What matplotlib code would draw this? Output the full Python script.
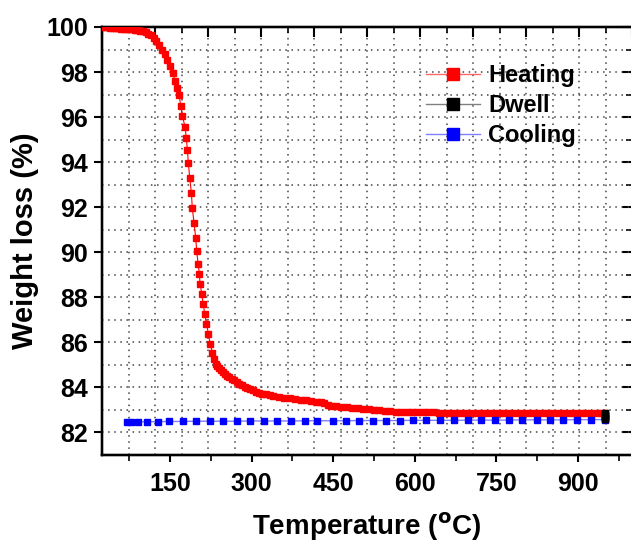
import numpy as np
import matplotlib
matplotlib.use("Agg")
import matplotlib.pyplot as plt
from matplotlib.lines import Line2D
from matplotlib.ticker import MultipleLocator, FixedLocator

plt.rcParams['font.family'] = ['Liberation Sans', 'DejaVu Sans']
plt.rcParams['font.weight'] = 'bold'
plt.rcParams['mathtext.default'] = 'bf'

# heating run (temperature in C, weight in %)
heat_T = [25, 30, 35, 40, 45, 50, 55, 60, 65, 70, 75, 80, 85, 90, 95, 100,
          105, 110, 115, 120, 125, 130, 135, 140, 145, 150, 155, 160, 163,
          166.6, 169.7, 172.7, 177.6, 180.0, 182.0, 183.8, 186.3, 189.3,
          191.0, 194.2, 197.3, 199.0, 201.6, 204.0, 205.3, 208.4, 210.8,
          213.9, 216.9, 220.6, 223.7, 228.0, 231, 234, 237, 240, 243, 247,
          251, 255, 259, 264, 268, 273, 277, 282, 287, 292, 297, 302, 308,
          314, 320, 326, 333, 340, 350, 360, 370, 380, 390, 400, 410, 420,
          428, 434, 440, 446, 455, 465, 475, 485, 495, 505, 515, 525, 535,
          545, 555, 565, 575, 585, 595, 605, 615, 625, 635, 645, 655, 665,
          675, 685, 695, 705, 715, 725, 735, 745, 755, 765, 775, 785, 795,
          805, 815, 825, 835, 845, 855, 865, 875, 885, 895, 905, 915, 925,
          935, 945, 950]
heat_W = [100.00, 99.99, 99.98, 99.97, 99.96, 99.95, 99.94, 99.93, 99.92,
          99.91, 99.90, 99.89, 99.88, 99.86, 99.84, 99.81, 99.77, 99.71,
          99.63, 99.52, 99.38, 99.20, 99.00, 98.78, 98.53, 98.25, 97.95,
          97.58, 97.30, 97.00, 96.50, 96.05, 95.57, 95.08, 94.53, 93.94,
          93.30, 92.63, 91.97, 91.30, 90.64, 90.06, 89.50, 89.02, 88.60,
          88.16, 87.72, 87.27, 86.83, 86.39, 85.94, 85.55, 85.28, 85.05,
          84.93, 84.84, 84.76, 84.67, 84.59, 84.52, 84.46, 84.38, 84.31,
          84.24, 84.17, 84.10, 84.03, 83.97, 83.92, 83.87, 83.81, 83.76,
          83.72, 83.69, 83.66, 83.63, 83.59, 83.55, 83.51, 83.48, 83.45,
          83.42, 83.39, 83.37, 83.35, 83.31, 83.23, 83.19, 83.16, 83.13,
          83.11, 83.09, 83.07, 83.05, 83.03, 83.01, 82.99, 82.97, 82.95,
          82.93, 82.92, 82.91, 82.90, 82.90, 82.89, 82.89, 82.89, 82.88,
          82.88, 82.88, 82.88, 82.88, 82.88, 82.88, 82.88, 82.88, 82.88,
          82.88, 82.88, 82.88, 82.88, 82.88, 82.87, 82.87, 82.87, 82.87,
          82.87, 82.87, 82.87, 82.87, 82.87, 82.87, 82.87, 82.87, 82.87,
          82.86, 82.86, 82.86, 82.86]

# dwell at max temperature
dwell_T = [950, 950, 950, 950, 950, 950, 950, 950]
dwell_W = [82.86, 82.82, 82.78, 82.74, 82.70, 82.66, 82.62, 82.58]

# cooling run
cool_T = [950, 925, 899, 873, 848, 824, 797, 773, 747, 722, 698, 672, 647,
          621, 596, 572, 547, 523, 498, 474, 449, 421, 398, 373, 347, 323,
          298, 273, 248, 223, 198, 173, 149, 127, 107, 91, 79, 71]
cool_W = [82.57, 82.57, 82.57, 82.56, 82.56, 82.56, 82.56, 82.55, 82.55,
          82.55, 82.55, 82.54, 82.54, 82.54, 82.54, 82.53, 82.53, 82.53,
          82.53, 82.52, 82.52, 82.52, 82.52, 82.51, 82.51, 82.51, 82.51,
          82.50, 82.50, 82.50, 82.50, 82.49, 82.49, 82.48, 82.48, 82.47,
          82.47, 82.46]

xticks = [150, 300, 450, 600, 750, 900]
yticks = [82, 84, 86, 88, 90, 92, 94, 96, 98, 100]

fig = plt.figure(figsize=(6.31, 5.44), dpi=100)
ax = fig.add_axes([0.1617, 0.1636, 0.8403, 0.7868])

xmin, xmax = 25, 1000
ymin, ymax = 81, 100

# twin axes for the inward ticks on top / right and the vertical grid
axt = ax.twiny()
axr = ax.twinx()
for a in (ax, axt, axr):
    a.set_xlim(xmin, xmax)
    a.set_ylim(ymin, ymax)

grid_kw = dict(color='#444444', linestyle=(0, (1, 3)), linewidth=1.1)

# top: 20 equal divisions
div = np.linspace(xmin, xmax, 21)
axt.xaxis.set_major_locator(FixedLocator(div[::2]))
axt.xaxis.set_minor_locator(FixedLocator(div[1::2]))
axt.tick_params(axis='x', which='major', direction='in', length=7, width=1.5,
                labeltop=False)
axt.tick_params(axis='x', which='minor', direction='in', length=4, width=1.2)
axt.grid(True, axis='x', which='both', **grid_kw)
axt.set_yticks([])

axr.yaxis.set_major_locator(FixedLocator(yticks))
axr.yaxis.set_minor_locator(MultipleLocator(1))
axr.tick_params(axis='y', which='major', direction='in', length=7, width=1.5,
                labelright=False)
axr.tick_params(axis='y', which='minor', direction='in', length=4, width=1.2)

ax.set_zorder(axr.get_zorder() + 2)
ax.patch.set_visible(False)

ax.plot(heat_T, heat_W, color='red', lw=0.8, marker='s', ms=5, mec='red',
        mfc='red', zorder=3)
ax.plot(dwell_T, dwell_W, color='gray', lw=0.8, marker='s', ms=4.8,
        mec='black', mfc='black', zorder=4)
ax.plot(cool_T, cool_W, color='#8080ff', lw=1.0, marker='s', ms=4.6,
        mec='blue', mfc='blue', zorder=3)

ax.set_xticks(xticks)
ax.xaxis.set_minor_locator(FixedLocator([75, 225, 375, 525, 675, 825, 975]))
ax.set_yticks(yticks)
ax.yaxis.set_minor_locator(MultipleLocator(1))
ax.grid(True, axis='y', which='both', **grid_kw)
ax.tick_params(axis='x', which='major', direction='out', length=5, width=1.5,
               pad=7, labelsize=18)
ax.tick_params(axis='x', which='minor', direction='out', length=4, width=1.2)
ax.tick_params(axis='y', which='major', direction='out', length=6, width=1.5,
               pad=4, labelsize=18)
ax.tick_params(axis='y', which='minor', length=0)

for a in (ax, axt, axr):
    for s in a.spines.values():
        s.set_linewidth(1.6)

ax.set_xlabel(r'Temperature ($^{\mathbf{o}}$C)', fontsize=20,
              fontweight='bold', labelpad=11)
ax.set_ylabel('Weight loss (%)', fontsize=21, fontweight='bold', labelpad=5)

handles = [
    Line2D([], [], color='#ff6666', lw=1, marker='s', ms=8, mfc='red', mec='red'),
    Line2D([], [], color='gray', lw=1, marker='s', ms=8, mfc='black', mec='black'),
    Line2D([], [], color='#8080ff', lw=1, marker='s', ms=8, mfc='blue', mec='blue'),
]
fig.legend(handles, ['Heating', 'Dwell', 'Cooling'], loc='upper left',
           bbox_to_anchor=(0.675, 0.882), frameon=False, fontsize=17,
           handlelength=2.3, handletextpad=0.35, labelspacing=0.3,
           borderpad=0, borderaxespad=0, numpoints=1)

fig.savefig('out.png', dpi=100)
